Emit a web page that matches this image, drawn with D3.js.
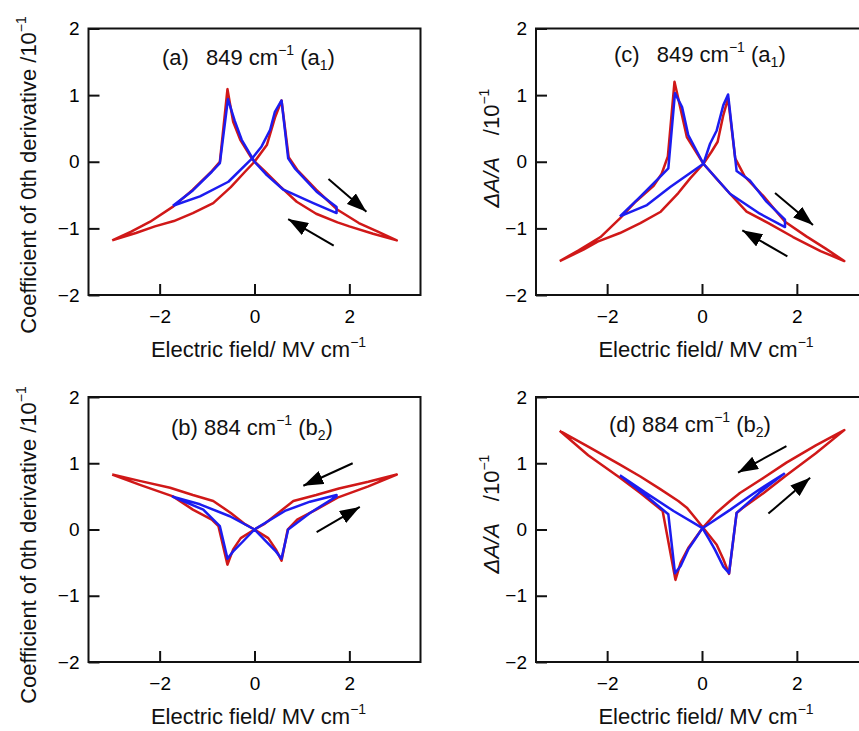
<!DOCTYPE html>
<meta charset="utf-8">
<head>
  <title>Electric field hysteresis</title>
</head>
<style>
body { margin: 0; background: #fff; }
svg { display: block; background: #fff; }
text { font-family: "Liberation Sans", Arial, sans-serif; fill: #111; }
.frame { fill: none; stroke: #111; stroke-width: 2; }
.axis path { display: none; }
.axis line { stroke: #111; stroke-width: 2; }
.axis text { font-size: 19px; fill: #000; }
.loop { fill: none; stroke-width: 2.5; stroke-linejoin: round; }
.arrow { stroke: #000; stroke-width: 2; }
</style>
<body>
<svg id="chart" width="859" height="731"></svg>

<script src="https://cdnjs.cloudflare.com/ajax/libs/d3/7.8.5/d3.min.js"></script>
<script>

// tick labels
var xTicks = [-2, 0, 2];
var yTicks = [-2, -1, 0, 1, 2];

// (a) 849 cm-1, 0th derivative coefficient  [field, value] in sweep order
var aRed = [
  [-3.0,-1.18],[-2.5,-1.07],[-2.1,-0.97],[-1.7,-0.89],[-1.3,-0.77],[-0.87,-0.62],[-0.5,-0.38],[-0.2,-0.15],
  [0.0,0.0],[0.26,0.25],[0.43,0.66],[0.57,0.92],[0.72,0.07],[0.9,-0.12],[1.3,-0.42],[1.75,-0.72],[2.2,-0.92],[2.6,-1.05],[3.0,-1.18],
  [2.5,-1.08],[2.0,-0.97],[1.75,-0.91],[1.3,-0.78],[0.89,-0.6],[0.54,-0.37],[0.2,-0.13],[-0.04,0.03],
  [-0.3,0.33],[-0.45,0.6],[-0.57,1.09],[-0.73,0.0],[-0.9,-0.14],[-1.3,-0.42],[-1.71,-0.67],[-2.2,-0.9],[-2.6,-1.05],[-3.0,-1.18]
];
var aBlue = [
  [-1.72,-0.66],[-1.15,-0.52],[-0.55,-0.3],[-0.05,0.05],[0.15,0.23],[0.33,0.48],[0.43,0.75],[0.57,0.92],
  [0.71,0.05],[0.85,-0.1],[1.31,-0.45],[1.73,-0.68],
  [1.73,-0.77],[1.24,-0.62],[0.61,-0.42],[0.26,-0.2],[0.0,0.0],[-0.27,0.33],[-0.42,0.62],[-0.56,0.94],
  [-0.73,-0.02],[-0.9,-0.15],[-1.3,-0.43],[-1.72,-0.66]
];

// (b) 884 cm-1, 0th derivative coefficient
var bRed = [
  [-3,0.83],[-2.4,0.73],[-1.78,0.63],[-1.3,0.52],[-0.87,0.43],[-0.5,0.25],[-0.2,0.08],[0,0],
  [0.29,-0.13],[0.45,-0.3],[0.57,-0.47],[0.7,0.0],[0.9,0.15],[1.3,0.3],[1.75,0.48],[2.4,0.65],[3,0.83],
  [2.4,0.72],[1.78,0.62],[1.3,0.52],[0.82,0.43],[0.5,0.25],[0.2,0.08],[0,0],
  [-0.29,-0.13],[-0.45,-0.3],[-0.57,-0.53],[-0.76,0.05],[-0.9,0.15],[-1.3,0.3],[-1.72,0.5],[-2.4,0.67],[-3,0.83]
];
var bBlue = [
  [-1.74,0.5],[-1.15,0.38],[-0.52,0.2],[0,0],[0.3,-0.22],[0.45,-0.33],[0.57,-0.44],[0.71,0.0],[1.17,0.25],[1.73,0.5],
  [1.73,0.52],[1.17,0.42],[0.64,0.28],[0,0],[-0.27,-0.2],[-0.45,-0.33],[-0.57,-0.44],[-0.73,0.05],[-1.08,0.3],[-1.74,0.5]
];

// (c) 849 cm-1, dA/A
var cRed = [
  [-3,-1.49],[-2.5,-1.32],[-2.2,-1.2],[-1.73,-1.07],[-1.3,-0.92],[-0.87,-0.75],[-0.5,-0.47],[-0.25,-0.25],
  [0.03,-0.03],[0.2,0.15],[0.33,0.3],[0.45,0.7],[0.55,0.95],[0.7,0.05],[0.9,-0.22],[1.3,-0.52],[1.75,-0.9],[2.2,-1.12],[2.6,-1.3],[3.0,-1.49],
  [2.5,-1.34],[1.92,-1.13],[1.4,-0.92],[0.94,-0.75],[0.59,-0.48],[0.3,-0.25],[0.03,-0.03],
  [-0.32,0.37],[-0.46,0.82],[-0.58,1.2],[-0.72,0.08],[-0.85,-0.18],[-1.02,-0.36],[-1.4,-0.6],[-1.73,-0.85],[-2.14,-1.13],[-2.6,-1.33],[-3,-1.49]
];
var cBlue = [
  [-1.73,-0.82],[-1.16,-0.65],[-0.67,-0.38],[0.03,-0.03],[0.17,0.27],[0.31,0.47],[0.45,0.85],[0.55,1.01],
  [0.73,-0.14],[1.01,-0.28],[1.36,-0.6],[1.75,-0.87],
  [1.75,-0.98],[1.22,-0.78],[0.59,-0.48],[0.03,-0.03],[-0.29,0.4],[-0.42,0.82],[-0.57,1.03],
  [-0.71,-0.1],[-0.89,-0.23],[-1.31,-0.53],[-1.73,-0.82]
];

// (d) 884 cm-1, dA/A
var dRed = [
  [-3,1.49],[-2.4,1.25],[-1.73,0.98],[-1.3,0.8],[-0.88,0.61],[-0.5,0.43],[-0.32,0.33],[-0.15,0.18],[0.02,0.03],
  [0.31,-0.23],[0.45,-0.45],[0.57,-0.67],[0.73,0.25],[0.85,0.32],[1.3,0.55],[1.78,0.82],[2.4,1.15],[3,1.5],
  [2.4,1.27],[1.78,1.01],[1.3,0.78],[0.8,0.55],[0.59,0.43],[0.3,0.25],[0.02,0.03],
  [-0.29,-0.28],[-0.45,-0.5],[-0.56,-0.76],[-0.83,0.28],[-1.3,0.55],[-1.73,0.78],[-2.4,1.12],[-3,1.49]
];
var dBlue = [
  [-1.73,0.82],[-1.2,0.56],[-0.6,0.28],[0.01,0.02],[0.15,-0.15],[0.27,-0.3],[0.45,-0.56],[0.57,-0.66],
  [0.73,0.25],[1.2,0.55],[1.73,0.84],
  [1.2,0.6],[0.6,0.3],[0.01,0.02],[-0.15,-0.15],[-0.29,-0.3],[-0.45,-0.55],[-0.57,-0.66],
  [-0.71,0.23],[-1.2,0.52],[-1.73,0.82]
];

// sweep direction arrows [x1, y1, x2, y2]
var aArrows = [[1.56,-0.26,2.36,-0.75],[1.67,-1.26,0.71,-0.86]];
var bArrows = [[2.07,1.0,1.03,0.66],[1.31,-0.04,2.22,0.34]];
var cArrows = [[1.54,-0.47,2.34,-0.95],[1.8,-1.42,0.85,-1.03]];
var dArrows = [[1.78,1.26,0.76,0.86],[1.4,0.24,2.28,0.78]];

var svg = d3.select('#chart');

svg.append('defs').append('marker')
  .attr('id', 'head')
  .attr('markerUnits', 'userSpaceOnUse')
  .attr('viewBox', '0 0 20 14')
  .attr('refX', 20).attr('refY', 7)
  .attr('markerWidth', 20).attr('markerHeight', 14)
  .attr('orient', 'auto')
  .append('path')
  .attr('d', 'M0,0 L20,7 L0,14 Z')
  .attr('fill', '#000');

var panels = [
  {left: 88.5, top: 28.5, bottom: 295, red: aRed, blue: aBlue, arrows: aArrows,
   tag: '(a)', gap: '\u2002', wn: '849', mode: 'a', sub: '1', tx: 162, ty: 65, ylab: 'coef', ly: 175},
  {left: 88.5, top: 397, bottom: 662, red: bRed, blue: bBlue, arrows: bArrows,
   tag: '(b)', gap: '', wn: '884', mode: 'b', sub: '2', tx: 171, ty: 435, ylab: 'coef', ly: 545},
  {left: 536, top: 28.5, bottom: 295, red: cRed, blue: cBlue, arrows: cArrows,
   tag: '(c)', gap: '\u2002', wn: '849', mode: 'a', sub: '1', tx: 614, ty: 62, ylab: 'dA', ly: 148},
  {left: 536, top: 397, bottom: 662, red: dRed, blue: dBlue, arrows: dArrows,
   tag: '(d)', gap: '', wn: '884', mode: 'b', sub: '2', tx: 609, ty: 432, ylab: 'dA', ly: 514}
];

var W = 332;
var fmt = d3.format('d');

panels.forEach(function(p){
  var x = d3.scaleLinear().domain([-3.5, 3.5]).range([p.left, p.left + W]);
  var y = d3.scaleLinear().domain([-2, 2]).range([p.bottom, p.top]);
  var g = svg.append('g');

  g.append('rect')
    .attr('class', 'frame')
    .attr('x', p.left).attr('y', p.top)
    .attr('width', W).attr('height', p.bottom - p.top);

  g.append('g')
    .attr('class', 'axis')
    .attr('transform', 'translate(' + p.left + ',0)')
    .call(d3.axisLeft(y).tickValues(yTicks).tickFormat(fmt).tickSizeInner(-11).tickSizeOuter(0).tickPadding(9));

  g.append('g')
    .attr('class', 'axis')
    .attr('transform', 'translate(0,' + p.bottom + ')')
    .call(d3.axisBottom(x).tickValues(xTicks).tickFormat(fmt).tickSizeInner(-11).tickSizeOuter(0).tickPadding(15));

  var line = d3.line()
    .x(function(d){ return x(d[0]); })
    .y(function(d){ return y(d[1]); });

  g.append('path').attr('class', 'loop').attr('stroke', '#d01818').attr('d', line(p.red));
  g.append('path').attr('class', 'loop').attr('stroke', '#1c1cf0').attr('d', line(p.blue));

  g.selectAll('line.arrow')
    .data(p.arrows)
    .enter()
    .append('line')
    .attr('class', 'arrow')
    .attr('x1', function(d){ return x(d[0]); })
    .attr('y1', function(d){ return y(d[1]); })
    .attr('x2', function(d){ return x(d[2]); })
    .attr('y2', function(d){ return y(d[3]); })
    .attr('marker-end', 'url(#head)');

  // title
  var t = g.append('text').attr('x', p.tx).attr('y', p.ty).style('font-size', '22px');
  t.append('tspan').text(p.tag + p.gap + ' ' + p.wn + ' cm');
  t.append('tspan').attr('dy', -10).style('font-size', '14px').text('\u22121');
  t.append('tspan').attr('dy', 10).text(' (' + p.mode);
  t.append('tspan').attr('dy', 5).style('font-size', '14px').text(p.sub);
  t.append('tspan').attr('dy', -5).text(')');

  // x label
  var xl = g.append('text')
    .attr('x', p.left + 170).attr('y', p.bottom + 62)
    .attr('text-anchor', 'middle')
    .style('font-size', '22px');
  xl.append('tspan').text('Electric field/ MV cm');
  xl.append('tspan').attr('dy', -10).style('font-size', '14px').text('\u22121');

  // y label
  var yx = p.ylab === 'coef' ? 36 : 499;
  var yl = g.append('text')
    .attr('transform', 'translate(' + yx + ',' + p.ly + ') rotate(-90)')
    .attr('text-anchor', 'middle')
    .style('font-size', '22px');
  if (p.ylab === 'coef') {
    yl.append('tspan').text('Coefficient of 0th derivative /10');
  } else {
    yl.append('tspan').style('font-style', 'italic').text('\u0394A/A');
    yl.append('tspan').text('\u2003/10');
  }
  yl.append('tspan').attr('dy', -10).style('font-size', '14px').text('\u22121');
});

</script>
</body>
</html>
